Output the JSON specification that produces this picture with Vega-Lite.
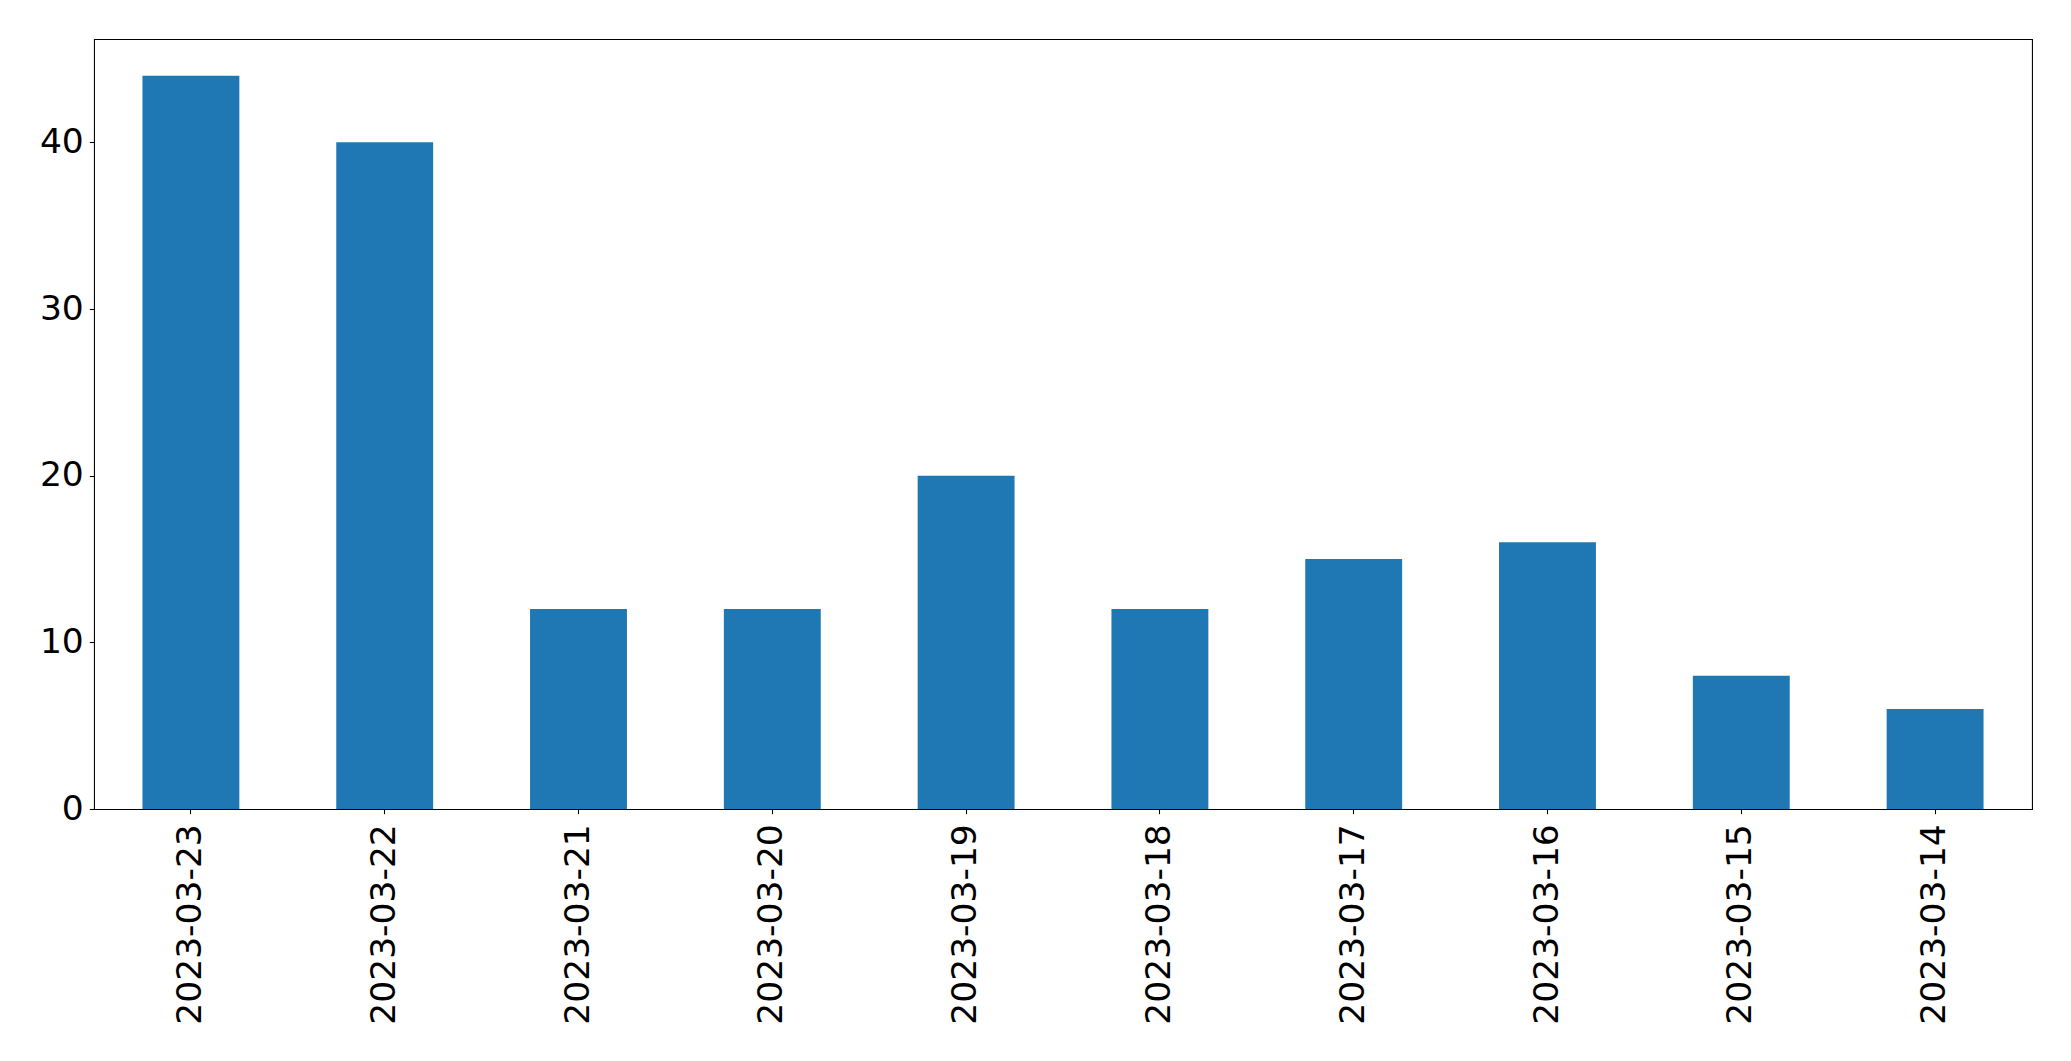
{
  "$schema": "https://vega.github.io/schema/vega-lite/v6.json",
  "autosize": {"type": "none"},
  "width": 1938,
  "height": 770,
  "padding": {"left": 94, "top": 39, "right": 39, "bottom": 252},
  "background": "white",
  "config": {
    "view": {"stroke": "black", "strokeWidth": 1.07},
    "axis": {
      "labelFont": "DejaVu Sans",
      "labelFontSize": 34.5,
      "labelColor": "black",
      "labelLimit": 0,
      "tickColor": "black",
      "tickSize": 4.7,
      "tickWidth": 1.07,
      "domain": false,
      "grid": false,
      "title": null
    }
  },
  "data": {
    "values": [
      {"date": "2023-03-23", "count": 44},
      {"date": "2023-03-22", "count": 40},
      {"date": "2023-03-21", "count": 12},
      {"date": "2023-03-20", "count": 12},
      {"date": "2023-03-19", "count": 20},
      {"date": "2023-03-18", "count": 12},
      {"date": "2023-03-17", "count": 15},
      {"date": "2023-03-16", "count": 16},
      {"date": "2023-03-15", "count": 8},
      {"date": "2023-03-14", "count": 6}
    ]
  },
  "mark": {"type": "bar", "color": "#1f77b4"},
  "encoding": {
    "x": {
      "field": "date",
      "type": "nominal",
      "sort": null,
      "scale": {"paddingInner": 0.5, "paddingOuter": 0.25},
      "axis": {"labelAngle": -90, "labelAlign": "right", "labelBaseline": "middle", "labelPadding": 10}
    },
    "y": {
      "field": "count",
      "type": "quantitative",
      "scale": {"domain": [0, 46.2], "nice": false},
      "axis": {"values": [0, 10, 20, 30, 40], "labelPadding": 6}
    }
  }
}
